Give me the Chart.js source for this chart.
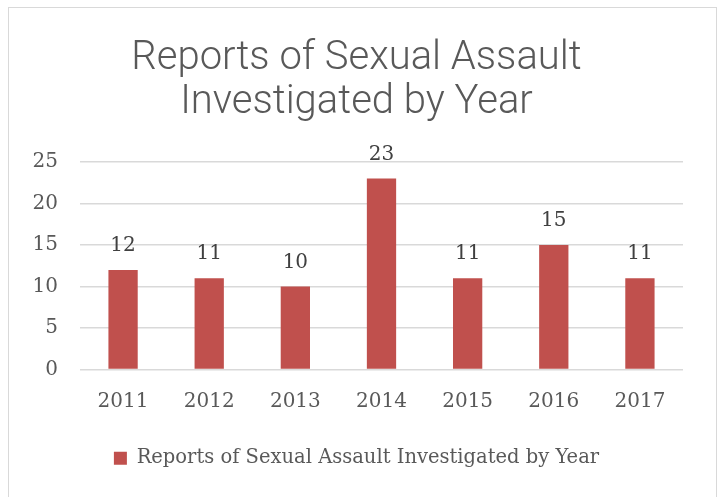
<!DOCTYPE html>
<html>
<head>
<meta charset="utf-8">
<script src="https://cdn.jsdelivr.net/npm/chart.js@4"></script>
<style>
  body { margin: 0; background: #fff; }
  #wrap { position: relative; width: 721px; height: 497px; overflow: hidden; }
  #frame { position: absolute; left: 8px; top: 7px; width: 707px; height: 520px; border: 1px solid #d9d9d9; }
  canvas { position: absolute; left: 0; top: 0; }
</style>
</head>
<body>
<div id="wrap">
  <div id="frame"></div>
  <canvas id="grafica" width="721" height="497"></canvas>
</div>
<script>
var years = ["2011", "2012", "2013", "2014", "2015", "2016", "2017"];
var reports = [12, 11, 10, 23, 11, 15, 11];
var seriesName = "Reports of Sexual Assault Investigated by Year";
var titleLines = ["Reports of Sexual Assault", "Investigated by Year"];

var serif = "'DejaVu Serif', serif";
var gris = '#595959';

/* etiquetas sobre las barras */
var etiquetas = {
    id: 'etiquetas',
    afterDatasetsDraw: function(chart) {
        var ctx = chart.ctx;
        var meta = chart.getDatasetMeta(0);
        ctx.save();
        ctx.font = '20px ' + serif;
        ctx.fillStyle = '#404040';
        ctx.textAlign = 'center';
        ctx.textBaseline = 'alphabetic';
        meta.data.forEach(function(bar, i) {
            ctx.fillText(chart.data.datasets[0].data[i], bar.x, bar.y - 19);
        });
        ctx.restore();
    }
};

var ctxg = document.getElementById("grafica");
var grafica = new Chart(ctxg, {
    type: 'bar',
    data: {
        labels: years,
        datasets: [{
            label: seriesName,
            data: reports,
            backgroundColor: '#c0504d',
            borderWidth: 0,
            barPercentage: 0.34,
            categoryPercentage: 1
        }]
    },
    options: {
        responsive: false,
        animation: false,
        layout: { padding: { left: 30, right: 38, top: 37, bottom: 19 } },
        plugins: {
            title: {
                display: true,
                text: titleLines,
                color: gris,
                font: { family: "Roboto, sans-serif", size: 40, weight: 300, lineHeight: 1.1 },
                padding: { top: 0, bottom: 37 }
            },
            legend: {
                position: 'bottom',
                labels: {
                    color: gris,
                    font: { family: serif, size: 19.5 },
                    boxWidth: 13,
                    boxHeight: 13,
                    padding: 23
                }
            },
            tooltip: { enabled: false }
        },
        scales: {
            x: {
                grid: { display: false },
                border: { display: false },
                ticks: { color: gris, font: { family: serif, size: 20 }, padding: 12 }
            },
            y: {
                min: 0,
                max: 25,
                ticks: { stepSize: 5, color: gris, font: { family: serif, size: 20 }, padding: 22 },
                grid: { color: '#d9d9d9', lineWidth: 1.5, drawTicks: false },
                border: { display: false },
                afterFit: function(scale) { scale.width = 50; }
            }
        }
    },
    plugins: [etiquetas]
});
</script>
</body>
</html>
